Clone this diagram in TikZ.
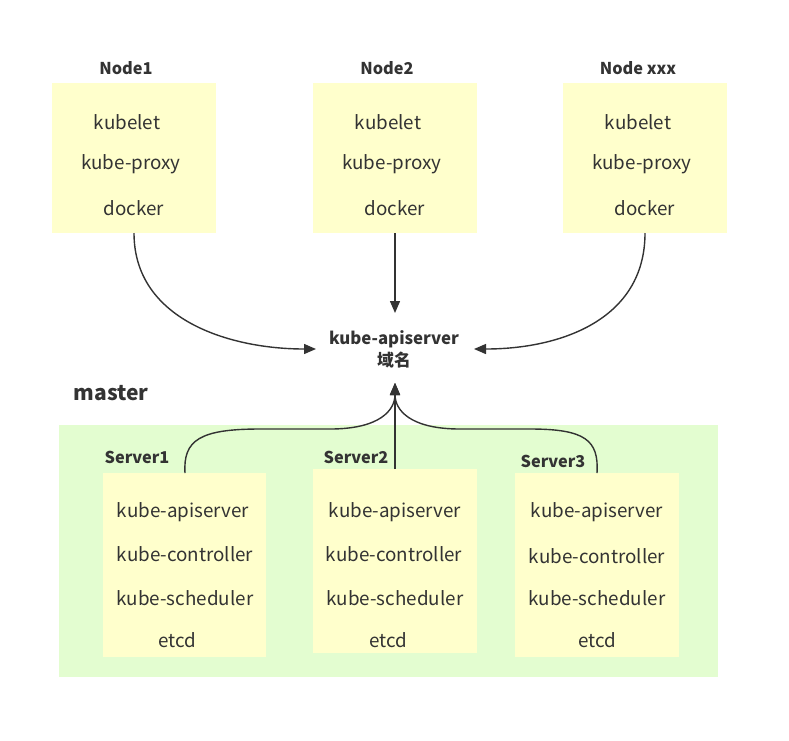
\documentclass[tikz,border=0pt]{standalone}
\usepackage{fontspec}
\setmainfont{Noto Sans CJK SC}
\usetikzlibrary{arrows.meta}
\definecolor{ybox}{HTML}{FFFFCC}
\definecolor{gbox}{HTML}{E3FDD0}
\definecolor{txt}{HTML}{333333}
\tikzset{
  ybx/.style={fill=ybox, draw=none, anchor=north west, inner sep=0pt},
  itm/.style={text=txt, font=\fontsize{18.8}{20}\selectfont, inner sep=0pt, yshift=-2pt},
  lbl/.style={text=txt, font=\bfseries\fontsize{16.3}{18}\selectfont, inner sep=0pt},
  con/.style={draw=txt, line width=1.4pt, -{Triangle[length=12pt,width=10pt]}},
}
\begin{document}
\begin{tikzpicture}[x=1pt,y=-1pt]
\useasboundingbox (0,0) rectangle (789,740);
% top nodes
\node[ybx, minimum width=164pt, minimum height=150pt] (n1) at (52,83) {};
\node[ybx, minimum width=164pt, minimum height=150pt] (n2) at (313,83) {};
\node[ybx, minimum width=164pt, minimum height=150pt] (n3) at (563,83) {};
\node[lbl] (n1l) at (126,68) {Node1};
\node[lbl] (n2l) at (387,68) {Node2};
\node[lbl] (n3l) at (638,68) {Node xxx};
\node[itm] (n1a) at (127,120) {kubelet};
\node[itm] (n1b) at (131,162) {kube-proxy};
\node[itm] (n1c) at (134,206) {docker};
\node[itm] (n2a) at (388,120) {kubelet};
\node[itm] (n2b) at (392,162) {kube-proxy};
\node[itm] (n2c) at (395,206) {docker};
\node[itm] (n3a) at (638,120) {kubelet};
\node[itm] (n3b) at (642,162) {kube-proxy};
\node[itm] (n3c) at (645,206) {docker};
% center
\node[lbl, align=center, font=\bfseries\fontsize{16.8}{22}\selectfont] (api) at (394,349) {kube-apiserver\\域名};
\coordinate (apil) at (316,349);
\coordinate (apir) at (474,349);
\coordinate (apit) at (395,313);
\coordinate (apib) at (395,383);
\coordinate (n1o) at (134,233);
\coordinate (n2o) at (395,233);
\coordinate (n3o) at (645,233);
\draw[con] (n1o) .. controls (134,320) and (230,349) .. (apil);
\draw[con] (n2o) -- (apit);
\draw[con] (n3o) .. controls (645,320) and (560,349) .. (apir);
% master
\node[text=txt, font=\bfseries\fontsize{21}{24}\selectfont, inner sep=0pt] (mlbl) at (111,393) {master};
\node[fill=gbox, draw=none, anchor=north west, minimum width=659pt, minimum height=252pt, inner sep=0pt] (master) at (59,425) {};
\node[ybx, minimum width=163pt, minimum height=184pt] (s1) at (103,473) {};
\node[ybx, minimum width=164pt, minimum height=184pt] (s2) at (313,469) {};
\node[ybx, minimum width=164pt, minimum height=184pt] (s3) at (515,473) {};
\node[lbl] (s1l) at (137,457) {Server1};
\node[lbl] (s2l) at (356,457) {Server2};
\node[lbl] (s3l) at (553,461) {Server3};
\node[itm] (s1a) at (183,510) {kube-apiserver};
\node[itm] (s1b) at (185,552) {kube-controller};
\node[itm] (s1c) at (185,596) {kube-scheduler};
\node[itm] (s1d) at (177,638) {etcd};
\node[itm] (s2a) at (395,510) {kube-apiserver};
\node[itm] (s2b) at (394,552) {kube-controller};
\node[itm] (s2c) at (395,596) {kube-scheduler};
\node[itm] (s2d) at (388,638) {etcd};
\node[itm] (s3a) at (597,510) {kube-apiserver};
\node[itm] (s3b) at (597,554) {kube-controller};
\node[itm] (s3c) at (597,596) {kube-scheduler};
\node[itm] (s3d) at (597,638) {etcd};
\coordinate (s1o) at (185,473);
\coordinate (s2o) at (395,469);
\coordinate (s3o) at (597,473);
\draw[con] (s1o) .. controls (183,440) and (200,429) .. (260,429) -- (330,429) .. controls (380,429) and (395,410) .. (apib);
\draw[con] (s2o) -- (apib);
\draw[con] (s3o) .. controls (599,440) and (585,429) .. (530,429) -- (460,429) .. controls (410,429) and (395,410) .. (apib);
\end{tikzpicture}
\end{document}
